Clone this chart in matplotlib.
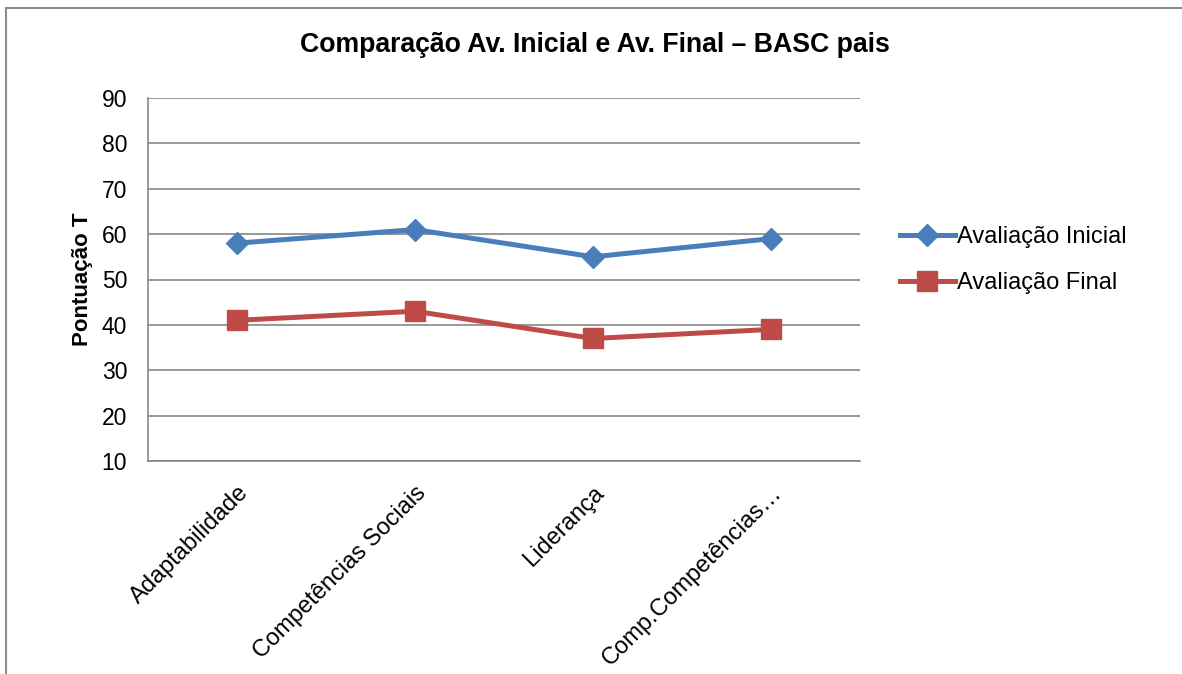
import matplotlib.pyplot as plt
from matplotlib.patches import Rectangle

categorias = ['Adaptabilidade', 'Competências Sociais', 'Liderança', 'Comp.Competências…']
inicial = [58, 61, 55, 59]
final = [41, 43, 37, 39]
yticks = [10, 20, 30, 40, 50, 60, 70, 80, 90]

plt.rcParams['font.family'] = ['Liberation Sans', 'DejaVu Sans']

fig = plt.figure(figsize=(11.82, 6.74), dpi=100)
ax = fig.add_axes([148 / 1182, 1 - 461 / 674, 712 / 1182, 363 / 674])

# moldura cinza da área do gráfico
fig.patches.append(Rectangle((6 / 1182, -0.05), 1.1, 1 - 8 / 674 + 0.05,
                             transform=fig.transFigure, fill=False,
                             edgecolor='#8c8c8c', linewidth=1.5))

x = list(range(len(categorias)))
ax.plot(x, inicial, color='#4a7ebb', linewidth=3.6, marker='D', markersize=11,
        label='Avaliação Inicial', zorder=3)
ax.plot(x, final, color='#be4b48', linewidth=3.6, marker='s', markersize=14,
        label='Avaliação Final', zorder=3)

ax.set_xlim(-0.5, len(categorias) - 0.5)
ax.set_ylim(10, 90)
ax.set_yticks(yticks)
ax.yaxis.grid(True, color='#868686', linewidth=1.2)
ax.set_axisbelow(True)
for s in ['top', 'right']:
    ax.spines[s].set_visible(False)
ax.spines['left'].set_color('#868686')
ax.spines['left'].set_linewidth(1.2)
ax.spines['bottom'].set_color('#868686')
ax.spines['bottom'].set_linewidth(1.2)
ax.tick_params(axis='y', length=0, labelsize=16.5, pad=15)
ax.tick_params(axis='x', length=0, labelsize=17, pad=15)

ax.set_xticks(x)
ax.set_xticklabels(categorias, rotation=45, ha='right', rotation_mode='anchor')

ax.set_ylabel('Pontuação T', fontsize=16, fontweight='bold', labelpad=6)
fig.text(595 / 1182, 1 - 45 / 674, 'Comparação Av. Inicial e Av. Final – BASC pais',
         ha='center', va='center', fontsize=19.2, fontweight='bold')

fig.legend(loc='center left', bbox_to_anchor=(879 / 1182, 1 - 260 / 674),
           frameon=False, fontsize=17, handlelength=2.3, handletextpad=0.1,
           labelspacing=1.0)

fig.savefig('out.png', dpi=100)
